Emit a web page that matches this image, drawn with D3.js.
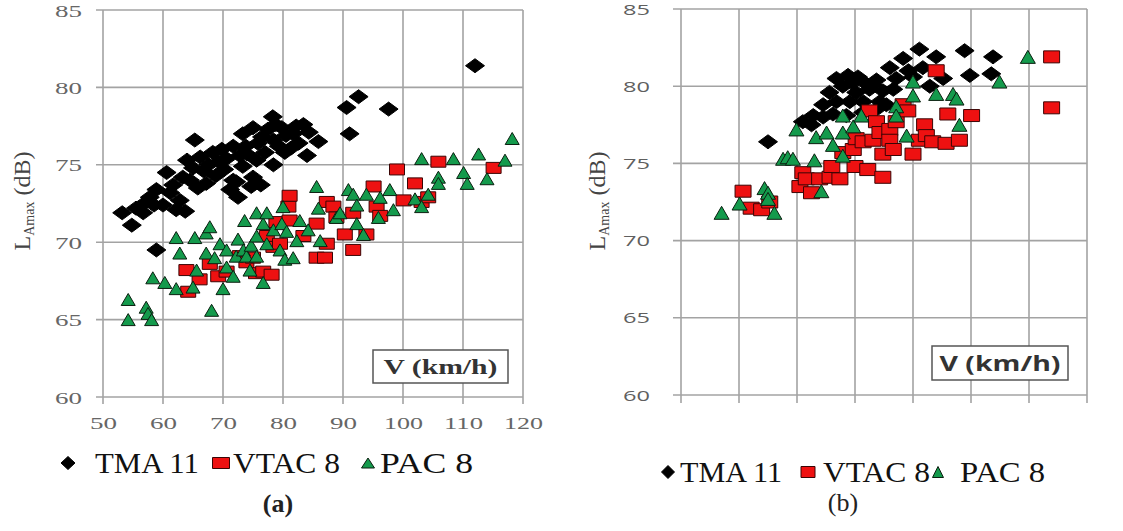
<!DOCTYPE html>
<html>
<head>
<meta charset="utf-8">
<script src="https://cdn.jsdelivr.net/npm/d3@7"></script>
<style>
  body { margin: 0; background: #fff; }
  svg { display: block; }
  .serif { font-family: "Liberation Serif", "Times New Roman", Times, serif; }
  .sans { font-family: "Open Sans", "Liberation Sans", sans-serif; }
</style>
</head>
<body>
<svg id="chart" width="1123" height="531"></svg>
<script>
// ---- data -------------------------------------------------------------
const xTicks = [50, 60, 70, 80, 90, 100, 110, 120];
const yTicks = [60, 65, 70, 75, 80, 85];
const seriesNames = ["TMA 11", "VTAC 8", "PAC 8"];
const panelLabels = ["(a)", "(b)"];
const xTitle = "V (km/h)";

// panel (a): [speed km/h, LAmax dB]
const tmaA = [
  [53.2,71.9],[54.8,71.1],[55.5,72.2],[56.7,71.9],[57.2,72.6],[57.8,72.9],[58.9,73.4],[58.5,72.4],
  [60.0,72.4],[60.6,74.5],[61.2,73.2],[61.7,73.7],[62.2,72.1],[62.8,72.7],[63.3,74.2],[63.7,72.0],
  [64.0,75.3],[64.5,74.0],[65.3,76.6],[65.0,74.8],[65.8,73.5],[66.2,75.5],[66.8,74.6],[67.2,73.8],
  [67.6,75.0],[68.3,75.8],[68.8,74.3],[69.3,75.2],[69.8,76.0],[70.2,74.7],[70.6,75.4],[71.2,73.4],
  [71.7,74.0],[71.7,76.2],[72.2,73.9],[72.5,72.9],[72.8,75.6],[73.3,74.9],[73.3,77.0],[73.8,76.2],
  [74.0,75.7],[74.7,73.6],[75.0,74.2],[75.0,77.4],[75.6,75.3],[75.8,76.4],[76.3,73.7],[76.5,76.8],
  [77.0,75.8],[77.5,77.3],[78.3,78.1],[78.4,75.0],[78.4,76.6],[78.8,77.6],[79.3,76.2],[79.8,77.4],
  [80.3,75.8],[80.5,76.9],[81.4,76.1],[81.7,77.0],[82.2,77.5],[82.6,76.4],[83.4,77.6],[84.0,75.6],
  [84.3,77.1],[85.9,76.5],[58.9,69.5],[90.6,78.7],[91.1,77.0],[92.6,79.4],[97.6,78.6],[112.0,81.4]
];
const vtacA = [
  [63.9,68.2],[64.2,66.8],[66.1,67.6],[67.8,68.6],[69.2,67.8],[70.6,68.1],[72.8,69.1],[73.9,68.7],
  [75.0,69.0],[75.5,68.0],[76.7,68.1],[78.1,67.9],[77.3,70.4],[78.4,69.7],[78.9,71.3],[79.5,69.9],
  [80.9,72.3],[81.1,73.0],[81.1,71.4],[83.4,70.4],[85.6,71.2],[85.6,69.0],[87.0,69.0],[87.3,69.9],
  [87.3,72.6],[88.4,72.3],[88.9,71.6],[90.3,70.5],[91.7,71.9],[91.7,69.5],[93.9,70.5],[95.1,73.6],
  [95.6,72.3],[96.2,71.7],[99.0,74.7],[100.1,72.7],[102.0,73.8],[103.1,72.6],[104.2,72.9],[105.9,75.2],
  [115.1,74.8]
];
const pacA = [
  [54.2,66.3],[54.2,65.0],[57.2,65.8],[57.5,65.4],[58.1,65.0],[58.3,67.7],[60.3,67.4],[62.2,67.0],
  [62.2,70.3],[62.8,69.3],[65.0,67.1],[65.3,70.3],[65.6,68.2],[67.2,70.6],[67.2,69.3],[67.8,71.0],
  [68.1,65.6],[68.6,69.0],[69.5,69.9],[70.0,67.0],[70.6,69.5],[70.6,68.4],[71.7,67.8],[72.2,69.1],
  [72.5,70.2],[73.4,69.5],[73.6,71.4],[73.9,69.1],[74.5,68.2],[74.7,69.8],[75.6,71.9],[75.6,70.4],
  [75.6,69.1],[76.7,71.2],[76.7,67.4],[77.3,71.9],[77.3,69.9],[78.4,70.8],[79.5,69.5],[79.8,71.2],
  [80.0,72.3],[80.3,68.9],[80.6,70.7],[81.7,69.0],[82.3,70.1],[82.8,71.4],[84.2,70.8],[85.6,73.6],
  [85.9,72.2],[86.2,70.1],[88.9,71.6],[89.5,71.9],[90.9,73.4],[91.7,73.1],[92.3,72.4],[92.3,71.2],
  [93.4,70.5],[93.9,73.1],[95.9,71.6],[96.2,72.9],[97.8,73.4],[98.4,72.1],[102.0,72.8],[103.1,72.3],
  [103.1,75.4],[104.2,73.1],[105.9,74.2],[105.9,73.8],[108.4,75.4],[110.1,74.5],[110.7,73.8],[112.6,75.7],
  [114.0,74.1],[117.0,75.3],[118.2,76.7]
];

// panel (b): [speed km/h, LAmax dB]
const tmaB = [
  [65.0,76.4],[71.0,77.7],[72.5,77.5],[72.8,78.1],[74.5,78.0],[74.5,78.8],[75.6,79.6],[76.2,78.2],
  [76.8,79.0],[76.8,80.5],[77.9,80.0],[78.5,78.1],[78.8,80.7],[79.1,79.0],[79.5,80.2],[80.2,79.6],
  [80.5,80.6],[81.4,80.3],[81.4,79.0],[81.4,78.3],[82.5,79.8],[83.0,80.1],[83.7,80.4],[83.7,78.5],
  [84.3,79.0],[84.8,79.7],[85.4,78.8],[86.0,81.2],[86.6,79.8],[87.1,80.5],[88.3,81.8],[89.2,81.0],
  [90.0,80.6],[91.1,82.4],[91.7,81.2],[92.9,80.0],[94.0,81.9],[95.2,80.5],[98.9,82.3],[99.8,80.7],
  [103.5,80.8],[103.8,81.9]
];
const vtacB = [
  [60.7,73.2],[62.1,72.1],[63.9,72.0],[65.3,72.5],[70.5,73.5],[71.0,74.4],[71.6,74.0],[72.5,73.1],
  [73.9,74.0],[75.7,74.1],[76.0,74.8],[77.4,74.0],[77.9,75.7],[79.7,75.9],[80.0,74.8],[80.2,76.6],
  [81.4,76.4],[82.2,74.6],[82.5,78.4],[83.1,76.5],[83.7,77.7],[84.3,77.0],[84.8,75.6],[84.8,74.1],
  [86.0,77.2],[86.0,76.5],[86.6,75.9],[87.1,77.7],[88.3,78.8],[89.1,78.4],[90.0,75.6],[91.1,76.5],
  [92.0,77.5],[92.3,76.8],[93.4,76.4],[94.0,81.0],[95.7,76.3],[96.0,78.2],[98.0,76.5],[100.1,78.1],
  [113.9,81.9],[113.9,78.6]
];
const pacB = [
  [57.0,71.8],[60.1,72.4],[64.4,73.4],[65.0,73.1],[65.0,72.7],[66.1,71.8],[67.6,75.3],[68.4,75.4],
  [69.3,75.3],[69.9,77.2],[73.0,75.2],[73.3,76.7],[74.2,73.2],[75.1,77.0],[76.2,76.2],[77.9,77.0],
  [77.9,75.5],[77.9,78.1],[79.7,77.4],[81.1,78.1],[87.1,78.7],[87.1,78.1],[88.9,76.8],[90.0,80.3],
  [90.0,79.4],[94.0,79.5],[96.9,79.5],[97.5,79.2],[98.0,77.5],[104.9,80.3],[109.8,81.9]
];

// ---- drawing ----------------------------------------------------------
const svg = d3.select("#chart");

const MARK = {
  diamond:  { type: d3.symbolDiamond,  bw: 10.746, bh: 18.612, cy: 0,      fill: "#000000", stroke: "#000000" },
  square:   { type: d3.symbolSquare,   bw: 10,     bh: 10,     cy: 0,      fill: "#ee1111", stroke: "#3a0505" },
  triangle: { type: d3.symbolTriangle, bw: 15.197, bh: 13.161, cy: -2.194, fill: "#149a4c", stroke: "#0b1f10" }
};
const shapeOf = ["diamond", "square", "triangle"];

function marker(g, kind, cx, cy, w, h) {
  const m = MARK[kind];
  const sx = w / m.bw, sy = h / m.bh;
  g.append("path")
    .attr("d", d3.symbol().type(m.type).size(100)())
    .attr("transform", `translate(${cx},${cy - m.cy * sy}) scale(${sx},${sy})`)
    .attr("fill", m.fill)
    .attr("stroke", m.stroke)
    .attr("stroke-width", 1)
    .attr("vector-effect", "non-scaling-stroke");
}

const panels = [
  {
    series: [tmaA, vtacA, pacA],
    xr: [103, 523], yr: [397, 10],
    tickClass: "serif", tickSize: 17, tickFill: "#666",
    yLabEnd: 82, xLabY: 429, tickLen: 7,
    sizes: { diamond: [19, 14], square: [15, 11], triangle: [14, 12] },
    titleX: 30, titleY: 201,
    box: { x: 373, y: 350, w: 135, h: 33, cls: "serif", size: 22, len: 114 },
    legendY: 463, legend: [
      { mx: 68,  w: 14, h: 13, tx: 95,  tlen: 104 },
      { mx: 221, w: 17, h: 11, tx: 233, tlen: 107 },
      { mx: 368, w: 13, h: 10, tx: 380, tlen: 93 }
    ],
    labelX: 278, labelY: 512, labelWeight: "bold",
    clipRight: null
  },
  {
    series: [tmaB, vtacB, pacB],
    xr: [681, 1087], yr: [395, 9],
    tickClass: "sans", tickSize: 14, tickFill: "#5f5f5f",
    yLabEnd: 650, xLabY: 430, tickLen: 8,
    sizes: { diamond: [19, 14], square: [16, 12], triangle: [15, 13] },
    titleX: 605, titleY: 201,
    box: { x: 932, y: 346, w: 136, h: 34, cls: "sans", size: 21, len: 121 },
    legendY: 472, legend: [
      { mx: 668, w: 13, h: 13, tx: 680, tlen: 102 },
      { mx: 808, w: 14, h: 11, tx: 823, tlen: 107 },
      { mx: 938, w: 11, h: 11, tx: 960, tlen: 85 }
    ],
    labelX: 843, labelY: 511, labelWeight: "normal",
    clipRight: 1106
  }
];

const defs = svg.append("defs");

panels.forEach((p, pi) => {
  const x = d3.scaleLinear().domain([50, 120]).range(p.xr);
  const y = d3.scaleLinear().domain([60, 85]).range(p.yr);
  const g = svg.append("g");

  // grid
  const gridColor = "#a3a3a3";
  g.append("g").selectAll("line").data(xTicks).join("line")
    .attr("x1", d => x(d)).attr("x2", d => x(d))
    .attr("y1", y(85)).attr("y2", y(60) + p.tickLen)
    .attr("stroke", gridColor).attr("stroke-width", 1.6);
  g.append("g").selectAll("line").data(yTicks).join("line")
    .attr("y1", d => y(d)).attr("y2", d => y(d))
    .attr("x1", x(50) - p.tickLen).attr("x2", x(120))
    .attr("stroke", gridColor).attr("stroke-width", 1.6);

  // axes (labels only; grid lines carry the ticks)
  const clipId = "clipx" + pi;
  if (p.clipRight) {
    defs.append("clipPath").attr("id", clipId)
      .append("rect").attr("x", 0).attr("y", 0).attr("width", p.clipRight).attr("height", 531);
  }
  const xAxis = g.append("g")
    .attr("transform", `translate(0,${p.xLabY})`)
    .call(d3.axisBottom(x).tickValues(xTicks).tickSize(0).tickPadding(0));
  if (p.clipRight) xAxis.attr("clip-path", `url(#${clipId})`);
  const yAxis = g.append("g")
    .attr("transform", `translate(${p.yLabEnd},0)`)
    .call(d3.axisLeft(y).tickValues(yTicks).tickSize(0).tickPadding(0));
  [xAxis, yAxis].forEach(a => {
    a.select(".domain").remove();
    a.attr("font-family", null).attr("font-size", null);
    a.selectAll("text")
      .attr("class", p.tickClass)
      .style("font-size", p.tickSize + "px")
      .attr("fill", p.tickFill)
      .attr("textLength", function () { return this.textContent.length === 3 ? 39 : 27; })
      .attr("lengthAdjust", "spacingAndGlyphs");
  });
  xAxis.selectAll("text").attr("y", 0).attr("dy", "0");
  yAxis.selectAll("text").attr("x", 0).attr("dy", "0.36em");

  // series points
  p.series.forEach((data, si) => {
    const kind = shapeOf[si];
    const [w, h] = p.sizes[kind];
    const sg = g.append("g");
    data.forEach(d => marker(sg, kind, x(d[0]), y(d[1]), w, h));
  });

  // axis title (y)
  const t = g.append("text")
    .attr("class", "serif")
    .attr("transform", `translate(${p.titleX},${p.titleY}) rotate(-90)`)
    .attr("text-anchor", "middle")
    .style("font-size", "24px")
    .attr("fill", "#444");
  t.append("tspan").text("L");
  t.append("tspan").text("Amax").style("font-size", "14px").attr("dy", 4);
  t.append("tspan").text(" (dB)").attr("dy", -4);

  // x title in a box
  const b = p.box;
  g.append("rect")
    .attr("x", b.x).attr("y", b.y).attr("width", b.w).attr("height", b.h)
    .attr("fill", "#fff").attr("stroke", "#555").attr("stroke-width", 1.5);
  g.append("text")
    .attr("class", b.cls)
    .attr("x", b.x + b.w / 2).attr("y", b.y + b.h / 2)
    .attr("dy", "0.36em")
    .attr("text-anchor", "middle")
    .style("font-weight", "bold")
    .style("font-size", b.size + "px").attr("fill", "#333")
    .attr("textLength", b.len).attr("lengthAdjust", "spacingAndGlyphs")
    .text(xTitle);

  // legend
  p.legend.forEach((L, si) => {
    marker(g, shapeOf[si], L.mx, p.legendY, L.w, L.h);
    g.append("text")
      .attr("class", "serif")
      .attr("x", L.tx).attr("y", p.legendY + 10)
      .style("font-size", "30px").attr("fill", "#111")
      .attr("textLength", L.tlen).attr("lengthAdjust", "spacingAndGlyphs")
      .text(seriesNames[si]);
  });

  // panel label
  g.append("text")
    .attr("class", "serif")
    .attr("x", p.labelX).attr("y", p.labelY)
    .attr("text-anchor", "middle")
    .style("font-size", "26px").style("font-weight", p.labelWeight).attr("fill", "#222")
    .text(panelLabels[pi]);
});
</script>
</body>
</html>
